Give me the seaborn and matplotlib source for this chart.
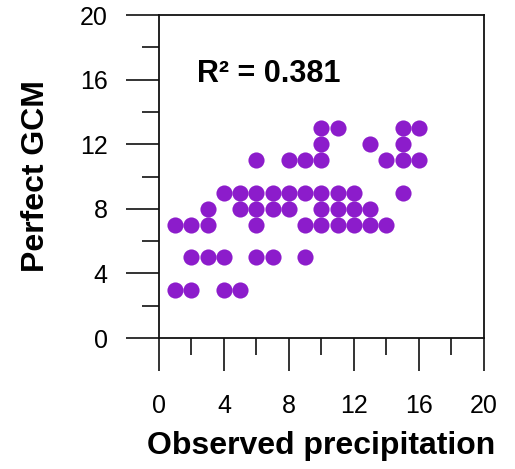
import numpy as np
import pandas as pd
import matplotlib
matplotlib.use("Agg")
import matplotlib.pyplot as plt
import seaborn as sns
from matplotlib.ticker import MultipleLocator

# observed vs perfect GCM values
observed = [1, 2, 4, 5,
            2, 3, 4, 6, 7, 9,
            1, 2, 3, 6, 9, 10, 11, 12, 13, 14,
            3, 5, 6, 7, 8, 10, 11, 12, 13,
            4, 5, 6, 7, 8, 9, 10, 11, 12, 15,
            6, 8, 9, 10, 14, 15, 16,
            10, 13, 15,
            10, 11, 15, 16]
perfect_gcm = [3] * 4 + [5] * 6 + [7] * 10 + [8] * 9 + [9] * 10 + [11] * 7 + [12] * 3 + [13] * 4
r2_label = "R\u00b2 = 0.381"
xlabel = "Observed precipitation"
ylabel = "Perfect GCM"

df = pd.DataFrame({"obs": observed, "gcm": perfect_gcm})

sns.set_style("ticks")
plt.rcParams["font.family"] = ["Liberation Sans", "DejaVu Sans"]
plt.rcParams["text.color"] = "black"
plt.rcParams["axes.labelcolor"] = "black"

fig = plt.figure(figsize=(5.15, 4.69), dpi=100)
ax = fig.add_axes([0.3087, 0.2793, 0.6311, 0.6887])

sns.scatterplot(data=df, x="obs", y="gcm", color="#8C1CCB", s=135,
                linewidth=0, alpha=1, ax=ax)

ax.set_xlim(0, 20)
ax.set_ylim(0, 20)
ax.xaxis.set_major_locator(MultipleLocator(4))
ax.xaxis.set_minor_locator(MultipleLocator(2))
ax.yaxis.set_major_locator(MultipleLocator(4))
ax.yaxis.set_minor_locator(MultipleLocator(2))

for sp in ax.spines.values():
    sp.set_visible(True)
    sp.set_linewidth(1.3)
    sp.set_color("#111111")

ax.tick_params(which="major", direction="out", length=24, width=1.2,
               color="#111111", labelsize=18, pad=13, labelcolor="black")
ax.tick_params(which="minor", direction="out", length=12, width=1.2,
               color="#111111")
ax.tick_params(axis="x", which="major", pad=16)

ax.set_xlabel(xlabel, fontsize=23, fontweight="bold", labelpad=10)
ax.set_ylabel(ylabel, fontsize=23, fontweight="bold", labelpad=21)

ax.text(2.35, 15.85, r2_label, fontsize=22, fontweight="bold",
        va="baseline", ha="left")

fig.savefig("out.png", dpi=100)
